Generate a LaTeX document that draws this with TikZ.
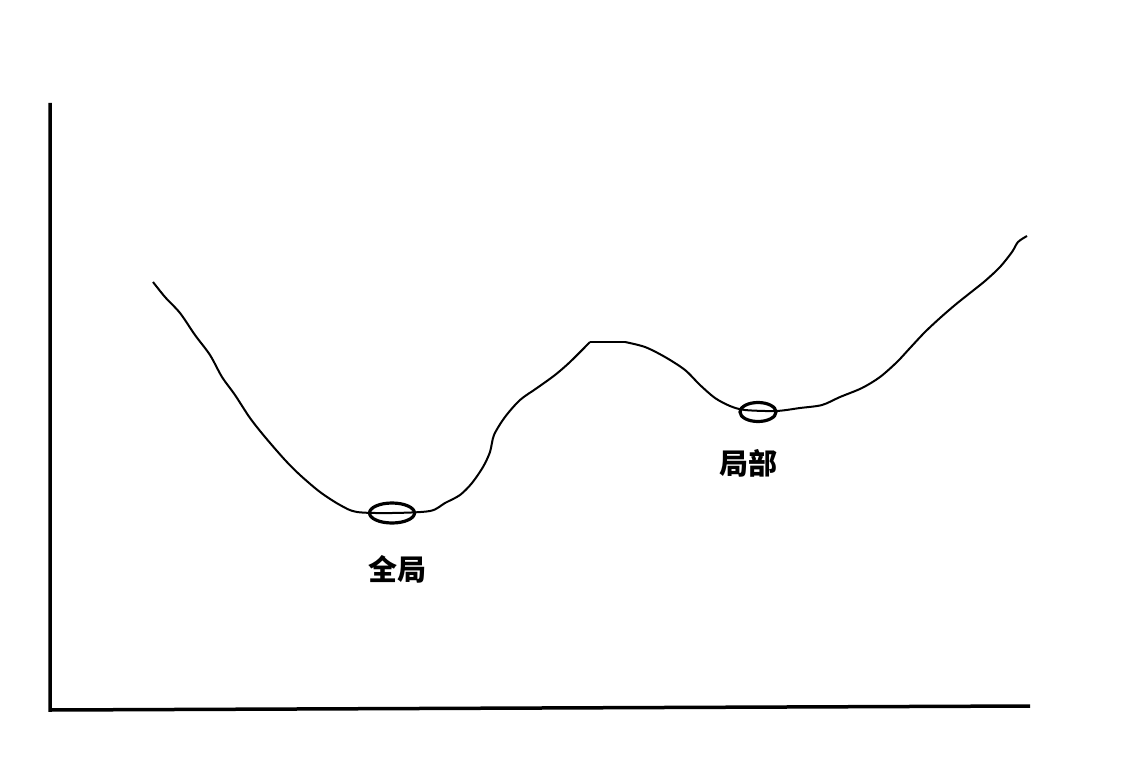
\documentclass[tikz,border=0pt]{standalone}
\usepackage{fontspec}
\newfontfamily\cjk{Noto Sans CJK SC}
\usetikzlibrary{shapes, positioning}
\tikzset{
	axis_line/.style={draw=black, line width=3.5pt},
	energy_curve/.style={draw=black, line width=2pt, line join=round},
	minimum_mark/.style={ellipse, draw=black, line width=3.2pt, inner sep=0pt},
	min_label/.style={font=\cjk\bfseries\fontsize{29}{32}\selectfont, inner sep=0pt}
}
\begin{document}
\begin{tikzpicture}[x=1pt, y=-1pt]
	\useasboundingbox (0,0) rectangle (1139,767);
	\coordinate (ytop) at (50,103);
	\coordinate (origin) at (50,710);
	\coordinate (xend) at (1030,706);
	\draw[axis_line] (ytop) -- (origin) -- (xend);
	% curve
	\draw[energy_curve] plot[smooth, tension=0.5] coordinates {
		(153,282) (165,297) (180,313) (195,335) (210,355) (222,377) (235,395)
		(250,418) (265,437) (285,460) (300,475) (320,492) (340,505) (357,512)
		(392,513) (430,511) (445,503) (460,495) (472,483) (483,467) (490,452)
		(494,435) (505,417) (520,400) (537,388) (555,375) (570,362) (590,342)};
	\draw[energy_curve] (590,342) -- (625,342);
	\draw[energy_curve] plot[smooth, tension=0.5] coordinates {
		(625,342) (645,347) (665,357) (685,370) (700,385) (715,398) (730,406)
		(745,410) (776,411) (800,408) (822,405) (840,397) (862,388) (880,377)
		(897,362) (910,348) (925,332) (940,318) (955,305) (970,293) (985,281)
		(1000,267) (1012,252) (1018,242) (1027,236)};
	% minima
	\node[minimum_mark, minimum width=45pt, minimum height=20pt] (gmin) at (392,513) {};
	\node[minimum_mark, minimum width=36pt, minimum height=19pt] (lmin) at (758,412) {};
	\node[min_label, below=31pt of gmin.south, xshift=5pt] (glabel) {全局};
	\node[min_label, below=26pt of lmin.south, xshift=-10pt] (llabel) {局部};
\end{tikzpicture}
\end{document}
